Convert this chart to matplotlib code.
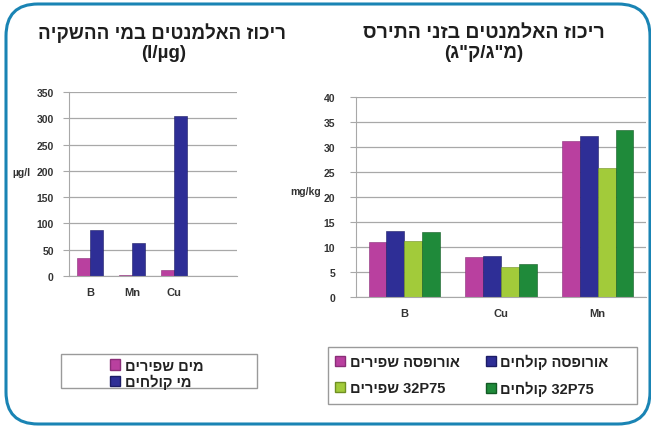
import numpy as np
import matplotlib
matplotlib.use("Agg")
import matplotlib.pyplot as plt
from matplotlib.patches import FancyBboxPatch, Rectangle, Patch

plt.rcParams["font.family"] = ["Liberation Sans", "DejaVu Sans"]
plt.rcParams["font.weight"] = "bold"

# left chart: irrigation water (ug/l)
water_elements = ["B", "Mn", "Cu"]
fresh_water = [35, 2, 12]
waste_water = [88, 62, 305]
water_labels = ["מים שפירים", "מי קולחים"]

# right chart: corn varieties (mg/kg)
corn_elements = ["B", "Cu", "Mn"]
europa_fresh = [11.0, 8.1, 31.2]
europa_waste = [13.2, 8.2, 32.2]
p75_fresh = [11.3, 6.0, 25.8]
p75_waste = [13.0, 6.6, 33.5]
corn_labels = ["אורופסה שפירים", "אורופסה קולחים", "32P75 שפירים", "32P75 קולחים"]

PINK = "#b9409f"
BLUE = "#2e2e96"
LGREEN = "#a2cb3a"
DGREEN = "#1f8a3a"
GRID = "#a8a8a8"
TXT = "#333333"


def vis(s):
    # matplotlib draws left to right: reverse hebrew words and their order
    out = []
    for w in s.split(" "):
        if any("\u0590" <= c <= "\u05ff" for c in w):
            out.append(w[::-1])
        else:
            out.append(w)
    return " ".join(out[::-1])


fig = plt.figure(figsize=(6.51, 4.27), dpi=100)
fig.patch.set_facecolor("white")

# frame
bg = fig.add_axes([0, 0, 1, 1])
bg.set_xlim(0, 651)
bg.set_ylim(427, 0)
bg.axis("off")
bg.add_patch(FancyBboxPatch((6, 5), 644, 420, boxstyle="round,pad=0,rounding_size=32",
                            fill=False, ec="#1a84b4", lw=2.2))
# legend boxes
bg.add_patch(Rectangle((61, 355), 196, 34, fill=False, ec="#9a9a9a", lw=1.0))
bg.add_patch(Rectangle((328, 348), 309, 57, fill=False, ec="#9a9a9a", lw=1.0))


def style(ax, ymax, step, ypad):
    ax.set_ylim(0, ymax)
    ax.set_yticks(np.arange(0, ymax + 1, step))
    ax.yaxis.grid(True, color=GRID, lw=0.9)
    ax.set_axisbelow(True)
    for sp in ["top", "right"]:
        ax.spines[sp].set_visible(False)
    for sp in ["left", "bottom"]:
        ax.spines[sp].set_color(GRID)
    ax.tick_params(axis="y", length=4, color=GRID, labelsize=7.5, labelcolor=TXT, pad=ypad)
    ax.tick_params(axis="x", length=0, labelsize=8, labelcolor=TXT, pad=8)
    for lab in ax.get_xticklabels() + ax.get_yticklabels():
        lab.set_fontweight("bold")


# left chart
ax1 = fig.add_axes([69 / 651, 1 - 277 / 427, 168 / 651, 184 / 427])
x1 = np.arange(len(water_elements))
w1 = 0.3
ax1.bar(x1 - w1 / 2, fresh_water, w1, color=PINK, ec="#8a2e78", lw=0.4)
ax1.bar(x1 + w1 / 2, waste_water, w1, color=BLUE, ec="#1c1c66", lw=0.4)
ax1.set_xlim(-0.5, 3.5)
ax1.set_xticks(x1)
ax1.set_xticklabels(water_elements)
style(ax1, 350, 50, 7)
fig.text(21 / 651, 1 - 173 / 427, "µg/l", fontsize=7.5, color=TXT, ha="center", va="center")

fig.text(162 / 651, 1 - 33 / 427, vis("ריכוז האלמנטים במי ההשקיה"),
         fontsize=13.5, color="#1e1e1e", ha="center", va="center", fontweight="bold")
fig.text(164 / 651, 1 - 53 / 427, "(l/µg)",
         fontsize=13.5, color="#1e1e1e", ha="center", va="center", fontweight="bold")

h1 = [Patch(fc=PINK, ec="#8a2e78"), Patch(fc=BLUE, ec="#1c1c66")]
fig.legend(h1, [vis(s) for s in water_labels], loc="center left",
           bbox_to_anchor=(110 / 651, 1 - 375 / 427), frameon=False,
           fontsize=10.5, handlelength=0.7, handleheight=0.7, handletextpad=0.3,
           labelspacing=0.1, borderpad=0, borderaxespad=0, labelcolor="#222222")

# right chart
ax2 = fig.add_axes([356 / 651, 1 - 298 / 427, 290 / 651, 200 / 427])
x2 = np.arange(len(corn_elements))
w2 = 0.185
series = [europa_fresh, europa_waste, p75_fresh, p75_waste]
colors = [PINK, BLUE, LGREEN, DGREEN]
edges = ["#8a2e78", "#1c1c66", "#6f8f22", "#125a24"]
for i, (vals, c, e) in enumerate(zip(series, colors, edges)):
    ax2.bar(x2 + (i - 1.5) * w2, vals, w2, color=c, ec=e, lw=0.4)
ax2.set_xlim(-0.5, 2.5)
ax2.set_xticks(x2)
ax2.set_xticklabels(corn_elements)
style(ax2, 40, 5, 11)
fig.text(306 / 651, 1 - 192 / 427, "mg/kg", fontsize=7.5, color=TXT, ha="center", va="center")

fig.text(484 / 651, 1 - 33 / 427, vis("ריכוז האלמנטים בזני התירס"),
         fontsize=14, color="#1e1e1e", ha="center", va="center", fontweight="bold")
fig.text(484 / 651, 1 - 53 / 427, '(ג"ק/ג"מ)',
         fontsize=13.5, color="#1e1e1e", ha="center", va="center", fontweight="bold")

h2 = [Patch(fc=c, ec=e) for c, e in zip(colors, edges)]
labs2 = [vis(s) for s in corn_labels]
order = [0, 2, 1, 3]
fig.legend([h2[i] for i in order], [labs2[i] for i in order], loc="center left", ncol=2,
           bbox_to_anchor=(335 / 651, 1 - 376 / 427), frameon=False,
           fontsize=10.5, handlelength=0.7, handleheight=0.7, handletextpad=0.3,
           labelspacing=0.85, columnspacing=1.8, borderpad=0, borderaxespad=0,
           labelcolor="#222222")

fig.savefig("out.png", dpi=100)
